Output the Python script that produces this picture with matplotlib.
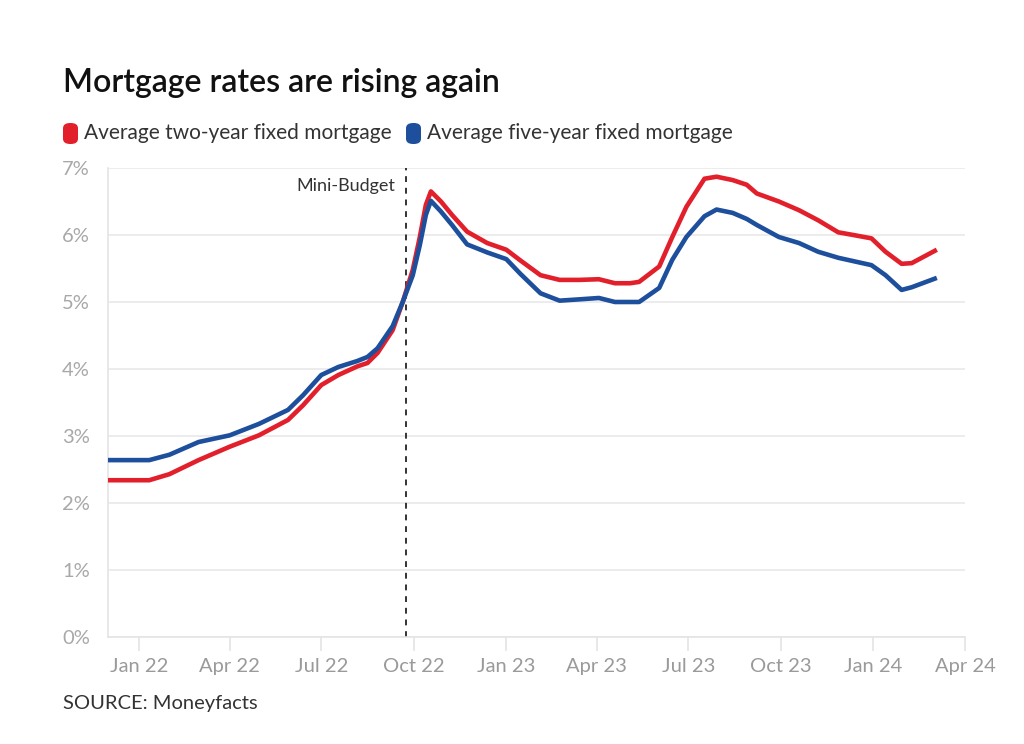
import matplotlib
matplotlib.use("Agg")
import matplotlib.pyplot as plt
from matplotlib.patches import FancyBboxPatch
import pandas as pd

dates = ["2021-12-01", "2022-01-11", "2022-01-31", "2022-03-01", "2022-04-01", "2022-04-30",
         "2022-05-29", "2022-06-13", "2022-07-01", "2022-07-18", "2022-08-06", "2022-08-16",
         "2022-08-26", "2022-09-10", "2022-09-20", "2022-09-30", "2022-10-07", "2022-10-13",
         "2022-10-18", "2022-10-28", "2022-11-08", "2022-11-23", "2022-12-13", "2023-01-01",
         "2023-01-15", "2023-02-04", "2023-02-23", "2023-03-15", "2023-04-03", "2023-04-19",
         "2023-05-04", "2023-05-13", "2023-06-02", "2023-06-15", "2023-06-29", "2023-07-17",
         "2023-07-29", "2023-08-14", "2023-08-28", "2023-09-07", "2023-09-29", "2023-10-19",
         "2023-11-07", "2023-11-27", "2023-12-12", "2023-12-30", "2024-01-13", "2024-01-29",
         "2024-02-08", "2024-03-04"]
two_year = [2.34, 2.34, 2.43, 2.64, 2.84, 3.01, 3.24, 3.46, 3.76, 3.91, 4.04, 4.09,
            4.24, 4.58, 5.00, 5.48, 5.97, 6.45, 6.65, 6.50, 6.30, 6.05, 5.88, 5.78,
            5.62, 5.40, 5.33, 5.33, 5.34, 5.28, 5.28, 5.30, 5.53, 5.97, 6.42, 6.84,
            6.87, 6.82, 6.75, 6.62, 6.50, 6.37, 6.22, 6.04, 6.00, 5.95, 5.75, 5.57,
            5.58, 5.78]
five_year = [2.64, 2.64, 2.72, 2.91, 3.01, 3.18, 3.39, 3.61, 3.91, 4.03, 4.12, 4.18,
             4.31, 4.64, 5.00, 5.40, 5.85, 6.30, 6.51, 6.35, 6.15, 5.86, 5.74, 5.64,
             5.42, 5.13, 5.02, 5.04, 5.06, 5.00, 5.00, 5.00, 5.21, 5.63, 5.97, 6.28,
             6.38, 6.33, 6.24, 6.15, 5.97, 5.88, 5.75, 5.66, 5.61, 5.55, 5.40, 5.18,
             5.22, 5.36]
tick_dates = ["2022-01-01", "2022-04-01", "2022-07-01", "2022-10-01", "2023-01-01",
              "2023-04-01", "2023-07-01", "2023-10-01", "2024-01-01", "2024-04-01"]
tick_labels = ["Jan 22", "Apr 22", "Jul 22", "Oct 22", "Jan 23", "Apr 23", "Jul 23",
               "Oct 23", "Jan 24", "Apr 24"]
y_ticks = [0, 1, 2, 3, 4, 5, 6, 7]
mini_budget_date = "2022-09-23"
series_names = ["Average two-year fixed mortgage", "Average five-year fixed mortgage"]

RED = "#e2202c"
BLUE = "#1d4f9c"
plt.rcParams['font.family'] = ['Lato', 'DejaVu Sans']

fig = plt.figure(figsize=(10.24, 7.44), dpi=100)
ax = fig.add_axes([108/1024, 1-637/744, (965-108)/1024, (637-168)/744])

d = pd.to_datetime(dates)
ax.plot(d, two_year, color=RED, lw=3.3, solid_capstyle='butt', solid_joinstyle='round', zorder=3)
ax.plot(d, five_year, color=BLUE, lw=3.3, solid_capstyle='butt', solid_joinstyle='round', zorder=4)

ax.set_xlim(pd.Timestamp("2021-12-01"), pd.Timestamp("2024-04-01"))
ax.set_ylim(0, 7)
ax.set_yticks(y_ticks)
ax.set_yticklabels([f"{v}%" for v in y_ticks])
ax.set_xticks(pd.to_datetime(tick_dates))
ax.set_xticklabels(tick_labels)
ax.grid(axis='y', color='#e9e9e9', lw=1.2)
ax.set_axisbelow(True)
for s in ['top', 'right']:
    ax.spines[s].set_visible(False)
ax.spines['left'].set_color('#e4e4e4')
ax.spines['bottom'].set_color('#e4e4e4')
ax.spines['left'].set_linewidth(1.2)
ax.spines['bottom'].set_linewidth(1.2)
ax.tick_params(axis='y', length=0, pad=13, labelsize=14.5, labelcolor='#a8a8a8')
ax.tick_params(axis='x', length=10, width=1.2, color='#e4e4e4', pad=5, labelsize=14.5, labelcolor='#9a9a9a')

mb = pd.Timestamp(mini_budget_date)
ax.axvline(mb, color='#333333', lw=1.4, ls=(0, (3, 3)), zorder=2)
ax.text(mb - pd.Timedelta(days=10), 6.73, "Mini-Budget", ha='right', va='center',
        fontsize=13, color='#333333')

fig.text(63/1024, 1-83/744, "Mortgage rates are rising again", fontsize=23,
         fontweight='semibold', color='#111111', va='center', ha='left')

for (x0, col, name) in [(63, RED, series_names[0]), (406, BLUE, series_names[1])]:
    p = FancyBboxPatch((x0/1024, 1-144/744), 15/1024, 21/744,
                       boxstyle="round,pad=0,rounding_size=0.007", transform=fig.transFigure,
                       facecolor=col, edgecolor='none')
    fig.patches.append(p)
    fig.text((x0+21)/1024, 1-133/744, name, fontsize=15, color='#333333', va='center', ha='left')

fig.text(63/1024, 1-703/744, "SOURCE: Moneyfacts", fontsize=14.5, color='#333333',
         va='center', ha='left')

fig.savefig("out.png", dpi=100, facecolor='white')
